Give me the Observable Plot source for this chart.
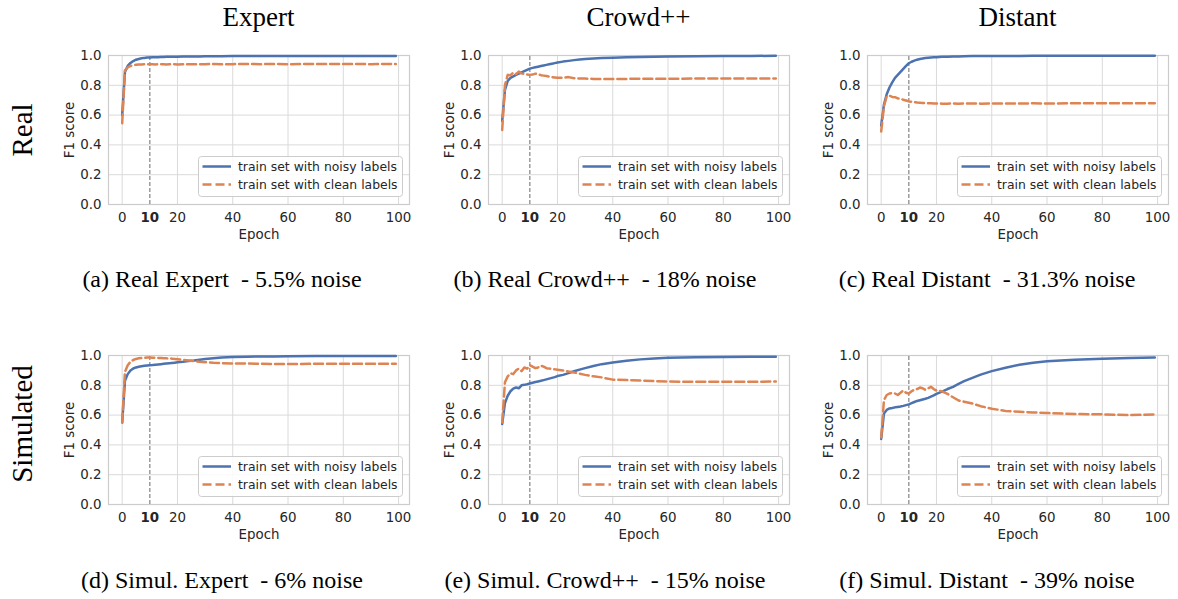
<!DOCTYPE html>
<html><head><meta charset="utf-8">
<script src="https://cdn.jsdelivr.net/npm/d3@7"></script>
<script src="https://cdn.jsdelivr.net/npm/@observablehq/plot@0.6"></script>
<style>
body{margin:0;background:#fff;}
#fig{position:relative;width:1178px;height:599px;overflow:hidden;background:#fff;}
#fig > div, #fig > svg{position:absolute;}
</style></head><body><div id="fig"></div>
<script>
// ---- data ----
const epochs = [0,1,2,3,4,5,6,7,8,9,10,11,12,13,14,15,16,17,18,19,20,22,24,26,28,30,33,36,40,45,50,55,60,70,80,90,99];

const realExpertNoisy = [0.60,0.89,0.93,0.95,0.963,0.972,0.977,0.981,0.984,0.986,0.987,0.988,0.989,0.989,0.99,0.99,0.991,0.991,0.992,0.992,0.992,0.993,0.993,0.994,0.994,0.995,0.995,0.995,0.996,0.996,0.996,0.997,0.997,0.997,0.997,0.997,0.997];
const realExpertClean = [0.545,0.90,0.92,0.93,0.935,0.938,0.94,0.94,0.941,0.941,0.941,0.941,0.94,0.941,0.942,0.941,0.94,0.941,0.942,0.941,0.94,0.942,0.941,0.942,0.942,0.942,0.943,0.942,0.942,0.943,0.942,0.943,0.942,0.943,0.943,0.942,0.943];

const realCrowdNoisy = [0.56,0.77,0.83,0.85,0.86,0.87,0.878,0.886,0.895,0.904,0.912,0.917,0.921,0.925,0.929,0.933,0.937,0.941,0.945,0.949,0.953,0.959,0.964,0.969,0.973,0.977,0.980,0.983,0.985,0.988,0.99,0.992,0.993,0.995,0.996,0.997,0.998];
const realCrowdClean = [0.50,0.80,0.87,0.868,0.885,0.875,0.892,0.88,0.876,0.873,0.87,0.872,0.878,0.875,0.868,0.865,0.862,0.858,0.855,0.853,0.85,0.85,0.855,0.848,0.846,0.845,0.843,0.842,0.843,0.843,0.844,0.843,0.844,0.845,0.845,0.845,0.845];

const realDistantNoisy = [0.53,0.67,0.74,0.785,0.82,0.85,0.87,0.89,0.91,0.93,0.948,0.958,0.966,0.972,0.977,0.98,0.983,0.985,0.987,0.988,0.989,0.991,0.992,0.993,0.994,0.995,0.996,0.996,0.997,0.997,0.997,0.998,0.998,0.998,0.998,0.998,0.998];
const realDistantClean = [0.49,0.66,0.725,0.73,0.722,0.72,0.712,0.71,0.703,0.698,0.692,0.69,0.687,0.684,0.683,0.682,0.68,0.68,0.679,0.678,0.678,0.677,0.677,0.678,0.677,0.678,0.678,0.677,0.678,0.678,0.678,0.679,0.678,0.679,0.679,0.68,0.68];

const simExpertNoisy = [0.55,0.83,0.875,0.90,0.913,0.92,0.925,0.928,0.931,0.933,0.935,0.936,0.938,0.94,0.942,0.944,0.946,0.948,0.95,0.952,0.954,0.958,0.963,0.967,0.972,0.976,0.981,0.986,0.99,0.992,0.993,0.994,0.995,0.996,0.996,0.997,0.997];
const simExpertClean = [0.55,0.89,0.935,0.958,0.97,0.977,0.981,0.983,0.985,0.986,0.986,0.985,0.985,0.984,0.983,0.982,0.981,0.98,0.979,0.977,0.975,0.971,0.967,0.962,0.958,0.955,0.951,0.949,0.947,0.946,0.944,0.943,0.943,0.944,0.944,0.945,0.945];

const simCrowdNoisy = [0.54,0.68,0.73,0.76,0.778,0.785,0.78,0.80,0.803,0.807,0.812,0.817,0.822,0.826,0.83,0.835,0.84,0.845,0.85,0.855,0.862,0.87,0.882,0.894,0.905,0.915,0.93,0.942,0.953,0.965,0.974,0.98,0.985,0.989,0.99,0.991,0.992];
const simCrowdClean = [0.55,0.82,0.86,0.88,0.875,0.90,0.912,0.895,0.92,0.912,0.935,0.925,0.915,0.92,0.932,0.925,0.915,0.912,0.91,0.907,0.905,0.90,0.892,0.886,0.878,0.87,0.86,0.853,0.838,0.835,0.832,0.828,0.825,0.824,0.823,0.824,0.825];

const simDistantNoisy = [0.44,0.61,0.635,0.645,0.648,0.652,0.655,0.658,0.662,0.667,0.672,0.68,0.688,0.695,0.70,0.705,0.71,0.716,0.724,0.732,0.742,0.758,0.775,0.79,0.81,0.828,0.85,0.872,0.895,0.918,0.938,0.952,0.962,0.972,0.979,0.983,0.987];
const simDistantClean = [0.45,0.70,0.735,0.745,0.748,0.745,0.735,0.75,0.765,0.75,0.745,0.76,0.77,0.775,0.785,0.78,0.77,0.78,0.79,0.775,0.765,0.76,0.742,0.72,0.698,0.69,0.678,0.66,0.643,0.628,0.622,0.618,0.614,0.607,0.605,0.60,0.604];

const columnTitles = ["Expert", "Crowd++", "Distant"];
const rowLabels = ["Real", "Simulated"];
const captions = [
  "(a) Real Expert  - 5.5% noise", "(b) Real Crowd++  - 18% noise", "(c) Real Distant  - 31.3% noise",
  "(d) Simul. Expert  - 6% noise", "(e) Simul. Crowd++  - 15% noise", "(f) Simul. Distant  - 39% noise"
];
const seriesNames = ["train set with noisy labels", "train set with clean labels"];
const xTicks = [0, 10, 20, 40, 60, 80, 100];
const xGrid = [0, 20, 40, 60, 80, 100];
const yTicks = [0, 0.2, 0.4, 0.6, 0.8, 1.0];
const highlightEpoch = 10;

const panelSeries = [
  [realExpertNoisy, realExpertClean], [realCrowdNoisy, realCrowdClean], [realDistantNoisy, realDistantClean],
  [simExpertNoisy, simExpertClean], [simCrowdNoisy, simCrowdClean], [simDistantNoisy, simDistantClean]
];

// ---- layout ----
const BLUE = "#4c72b0", ORANGE = "#dd8452";
const DASH = "9,4";
const frameLefts = [108, 488, 867], frameTops = [55, 355];
const FW = 301, FH = 149;
const ML = 60, MR = 10, MT = 10, MB = 45;
const fig = document.getElementById("fig");

panelSeries.forEach((pair, i) => {
  const col = i % 3, row = Math.floor(i / 3);
  const rows = [];
  pair.forEach((vals, s) => vals.forEach((v, k) => rows.push({epoch: epochs[k], f1: v, series: seriesNames[s]})));
  const noisy = rows.filter(d => d.series === seriesNames[0]);
  const clean = rows.filter(d => d.series === seriesNames[1]);
  const p = Plot.plot({
    width: ML + FW + MR, height: MT + FH + MB,
    marginLeft: ML, marginRight: MR, marginTop: MT, marginBottom: MB,
    style: {fontFamily: "DejaVu Sans", fontSize: "13.4px", color: "#262626", background: "transparent"},
    x: {domain: [-4.95, 103.95], ticks: xTicks, tickSize: 0, tickPadding: 8, label: "Epoch", labelAnchor: "center", labelOffset: 34, labelArrow: "none"},
    y: {domain: [0, 1], ticks: yTicks, tickSize: 0, tickPadding: 7, tickFormat: d3.format(".1f"), label: "F1 score", labelAnchor: "center", labelOffset: 44, labelArrow: "none"},
    marks: [
      Plot.ruleX(xGrid, {stroke: "#dadada", strokeWidth: 1}),
      Plot.ruleY(yTicks, {stroke: "#dadada", strokeWidth: 1}),
      Plot.frame({stroke: "#cccccc", strokeWidth: 1.2}),
      Plot.ruleX([highlightEpoch], {y1: 0, y2: 1, stroke: "#8c8c8c", strokeWidth: 1.3, strokeDasharray: "4,2"}),
      Plot.line(noisy, {x: "epoch", y: "f1", stroke: BLUE, strokeWidth: 2.5, curve: "linear"}),
      Plot.line(clean, {x: "epoch", y: "f1", stroke: ORANGE, strokeWidth: 2.5, strokeDasharray: DASH, curve: "linear"})
    ]
  });
  p.style.left = (frameLefts[col] - ML) + "px";
  p.style.top = (frameTops[row] - MT) + "px";
  p.style.position = "absolute";
  d3.select(p).selectAll('g[aria-label="x-axis tick label"] text')
    .filter(function(){ return this.textContent === String(highlightEpoch); })
    .attr("font-weight", "bold");
  fig.appendChild(p);

  // legend (lower right inside the frame)
  const LW = 205, LH = 41;
  const lg = d3.create("svg").attr("width", LW).attr("height", LH)
    .style("position", "absolute")
    .style("left", (frameLefts[col] + FW - 6 - LW) + "px")
    .style("top", (frameTops[row] + FH - 7 - LH) + "px")
    .style("font-family", "DejaVu Sans").style("font-size", "12.4px");
  lg.append("rect").attr("x", 0.5).attr("y", 0.5).attr("width", LW - 1).attr("height", LH - 1)
    .attr("rx", 3).attr("fill", "white").attr("fill-opacity", 0.85).attr("stroke", "#cccccc");
  [[BLUE, null], [ORANGE, DASH]].forEach(([c, dash], r) => {
    const yy = 10.5 + r * 18;
    const ln = lg.append("line").attr("x1", 4.5).attr("x2", 33).attr("y1", yy).attr("y2", yy)
      .attr("stroke", c).attr("stroke-width", 2.5);
    if (dash) ln.attr("stroke-dasharray", dash);
    lg.append("text").attr("x", 40).attr("y", yy).attr("dy", "0.35em").attr("fill", "#262626").text(seriesNames[r]);
  });
  fig.appendChild(lg.node());
});

// ---- headings, row labels and captions ----
const ov = d3.create("svg").attr("width", 1178).attr("height", 599)
  .style("position", "absolute").style("left", "0px").style("top", "0px")
  .style("font-family", "'Liberation Serif','Times New Roman',serif").attr("fill", "#000");
columnTitles.forEach((t, c) => {
  ov.append("text").attr("x", frameLefts[c] + FW / 2).attr("y", 26).attr("text-anchor", "middle")
    .style("font-size", "27px").text(t);
});
const rowCenters = [130, 424];
rowLabels.forEach((t, r) => {
  ov.append("text").attr("transform", `translate(32,${rowCenters[r]}) rotate(-90)`).attr("text-anchor", "middle")
    .style("font-size", "29px").text(t);
});
const capCenters = [222, 605, 987], capBaselines = [287, 588];
captions.forEach((t, i) => {
  ov.append("text").attr("x", capCenters[i % 3]).attr("y", capBaselines[Math.floor(i / 3)])
    .attr("text-anchor", "middle").style("font-size", "24px").style("white-space", "pre").text(t);
});
fig.appendChild(ov.node());
</script></body></html>
